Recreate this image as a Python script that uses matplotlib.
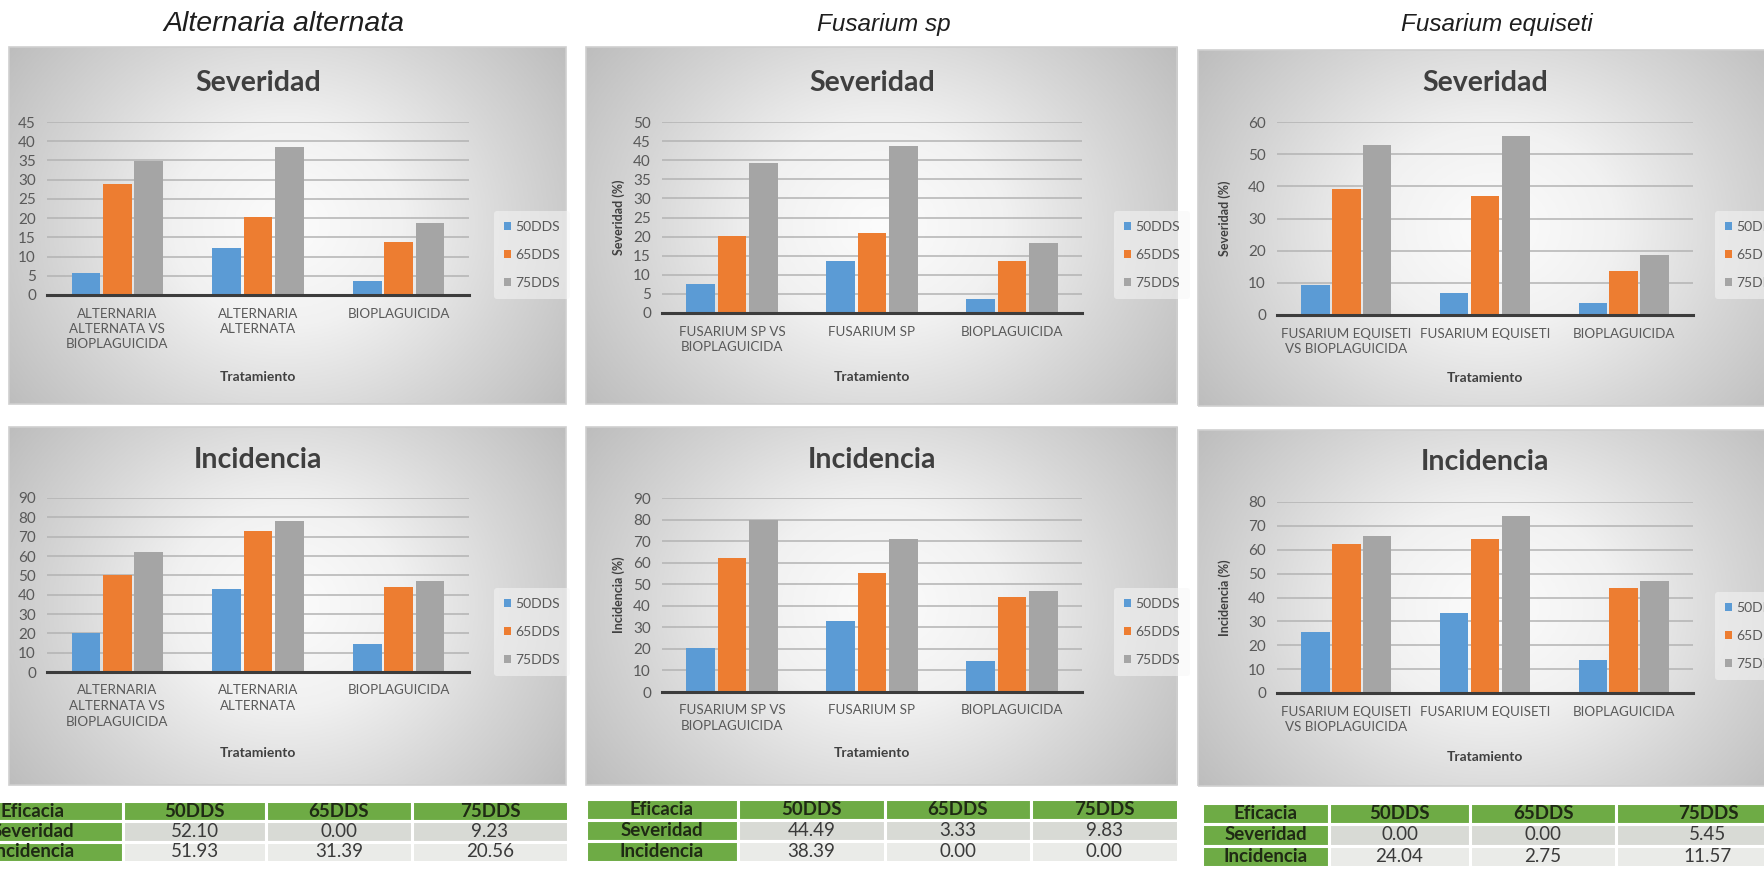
import numpy as np
import matplotlib
matplotlib.use("Agg")
import matplotlib.pyplot as plt
from matplotlib import font_manager
from matplotlib.colors import LinearSegmentedColormap
from matplotlib.patches import Rectangle

# ---------------------------------------------------------------- data
series = ["50DDS", "65DDS", "75DDS"]
series_colors = ["#5B9BD5", "#ED7D31", "#A5A5A5"]

organisms = ["Alternaria alternata", "Fusarium sp", "Fusarium equiseti"]

cats_alt = ["ALTERNARIA\nALTERNATA VS\nBIOPLAGUICIDA", "ALTERNARIA\nALTERNATA", "BIOPLAGUICIDA"]
cats_fsp = ["FUSARIUM SP VS\nBIOPLAGUICIDA", "FUSARIUM SP", "BIOPLAGUICIDA"]
cats_feq = ["FUSARIUM EQUISETI\nVS BIOPLAGUICIDA", "FUSARIUM EQUISETI", "BIOPLAGUICIDA"]

# rows: 50DDS, 65DDS, 75DDS ; columns: treatments
sev_alt = [[5.8, 12.1, 3.6], [29.0, 20.3, 13.8], [34.8, 38.5, 18.6]]
sev_fsp = [[7.7, 13.7, 3.6], [20.2, 20.9, 13.7], [39.3, 43.7, 18.4]]
sev_feq = [[9.3, 6.9, 3.6], [39.3, 37.0, 13.7], [52.7, 55.6, 18.6]]

inc_alt = [[20.4, 42.9, 14.4], [50.0, 72.7, 44.1], [61.9, 78.2, 46.9]]
inc_fsp = [[20.2, 32.9, 14.4], [62.1, 55.4, 43.9], [80.0, 71.0, 46.9]]
inc_feq = [[25.6, 33.7, 13.9], [62.6, 64.3, 43.8], [65.6, 74.3, 47.0]]

table_cols = ["Eficacia", "50DDS", "65DDS", "75DDS"]
table_rows = ["Severidad", "Incidencia"]
efic_alt = [[52.10, 0.00, 9.23], [51.93, 31.39, 20.56]]
efic_fsp = [[44.49, 3.33, 9.83], [38.39, 0.00, 0.00]]
efic_feq = [[0.00, 0.00, 5.45], [24.04, 2.75, 11.57]]

# ---------------------------------------------------------------- fonts
avail = {f.name for f in font_manager.fontManager.ttflist}


def pick(*names):
    for n in names:
        if n in avail:
            return n
    return "DejaVu Sans"


CHART_FONT = pick("Lato", "Open Sans", "DejaVu Sans")
NARROW_FONT = pick("Liberation Sans Narrow", "Lato", "Open Sans")
HEAD_FONT = pick("Liberation Sans", "DejaVu Sans")

W, H, DPI = 1765, 874, 100
fig = plt.figure(figsize=(W / DPI, H / DPI), dpi=DPI)
fig.patch.set_facecolor("white")


def px_axes(x0, y0, x1, y1, **kw):
    return fig.add_axes([x0 / W, 1 - y1 / H, (x1 - x0) / W, (y1 - y0) / H], **kw)


def ftext(x, y, s, **kw):
    return fig.text(x / W, 1 - y / H, s, **kw)


grad = LinearSegmentedColormap.from_list("panel_bg", ["#FCFCFC", "#F1F1F1", "#D6D6D6", "#BDBDBD"])


def chart(box, plot, title, title_y, values, cats, ymax, ystep,
          ylabel, ylabel_x, legend_x, legend_y, xlab_y):
    bg = px_axes(*box, zorder=0)
    yy, xx = np.mgrid[0:1:240j, 0:1:360j]
    r = np.hypot((xx - 0.5) / 0.62, (yy - 0.5) / 0.85)
    bg.imshow(np.clip(r, 0, 1), cmap=grad, vmin=0, vmax=1, aspect="auto",
              extent=[0, 1, 0, 1], interpolation="bilinear")
    bg.add_patch(Rectangle((0, 0), 1, 1, transform=bg.transAxes, fill=False,
                           ec="#CFCFCF", lw=1.2, clip_on=False))
    bg.set_axis_off()

    ax = px_axes(*plot, zorder=2)
    ax.patch.set_alpha(0)
    x = np.arange(len(cats))
    for i, (name, col) in enumerate(zip(series, series_colors)):
        ax.bar(x + (i - 1) * 0.223, values[i], width=0.205, color=col,
               label=name, zorder=3)
    ax.set_xlim(-0.5, len(cats) - 0.5)
    ax.set_ylim(0, ymax)
    ax.set_yticks(np.arange(0, ymax + 0.1, ystep))
    ax.yaxis.grid(True, color="#B3B3B3", lw=1.1)
    ax.set_axisbelow(True)
    for sp in ("top", "right", "left"):
        ax.spines[sp].set_visible(False)
    ax.spines["bottom"].set_color("#3C3C3C")
    ax.spines["bottom"].set_linewidth(2.2)
    ax.spines["bottom"].set_zorder(4)
    ax.tick_params(axis="both", length=0, colors="#595959")
    ax.tick_params(axis="y", labelsize=11, pad=8)
    ax.tick_params(axis="x", labelsize=9.6, pad=9)
    ax.set_xticks(x)
    ax.set_xticklabels(cats, linespacing=1.35, family=NARROW_FONT)
    for lab in ax.get_yticklabels():
        lab.set_family(CHART_FONT)

    cx = (plot[0] + plot[2]) / 2
    ftext(cx, title_y, title, ha="center", va="center", fontsize=20.5,
          weight="bold", color="#3F3F3F", family=CHART_FONT)
    ftext(cx, xlab_y, "Tratamiento", ha="center", va="center", fontsize=10,
          weight="bold", color="#404040", family=CHART_FONT)
    if ylabel:
        ftext(ylabel_x, (plot[1] + plot[3]) / 2, ylabel, rotation=90,
              ha="center", va="center", fontsize=9, weight="bold",
              color="#404040", family=CHART_FONT)

    leg = ax.legend(loc="center left", bbox_to_anchor=(legend_x / W, 1 - legend_y / H),
                    bbox_transform=fig.transFigure, frameon=True, facecolor="#F6F6F6",
                    edgecolor="none", framealpha=0.55, handlelength=0.5,
                    handleheight=0.5, handletextpad=0.35, labelspacing=1.15,
                    borderpad=0.7, prop={"family": CHART_FONT, "size": 10})
    for t in leg.get_texts():
        t.set_color("#595959")
    return ax


# ---------------------------------------------------------------- headers
for name, hx, hs in zip(organisms, [284, 884, 1497], [20.5, 17.5, 17.5]):
    ftext(hx, 24, name, ha="center", va="center", fontsize=hs, style="italic",
          color="#1E1E1E", family=HEAD_FONT)

# ---------------------------------------------------------------- severity row
chart((9, 47, 566, 404), (47, 122, 469, 295), "Severidad", 83, sev_alt, cats_alt,
      45, 5, None, None, 487, 255, 377)
chart((586, 47, 1177, 404), (662, 122, 1082, 313), "Severidad", 83, sev_fsp, cats_fsp,
      50, 5, "Severidad (%)", 619, 1107, 255, 377)
chart((1198, 50, 1790, 406), (1277, 122, 1693, 315), "Severidad", 83, sev_feq, cats_feq,
      60, 10, "Severidad (%)", 1225, 1708, 255, 378)

# ---------------------------------------------------------------- incidence row
chart((9, 427, 566, 785), (47, 498, 469, 672), "Incidencia", 460, inc_alt, cats_alt,
      90, 10, None, None, 487, 632, 753)
chart((586, 427, 1177, 785), (662, 498, 1082, 692), "Incidencia", 460, inc_fsp, cats_fsp,
      90, 10, "Incidencia (%)", 619, 1107, 632, 753)
chart((1198, 430, 1790, 786), (1277, 502, 1693, 693), "Incidencia", 462, inc_feq, cats_feq,
      80, 10, "Incidencia (%)", 1225, 1708, 636, 757)


# ---------------------------------------------------------------- efficacy tables
def efficacy_table(edges, y0, y1, values):
    tx = px_axes(edges[0], y0, edges[-1], y1, zorder=3)
    tx.set_axis_off()
    cells = [table_cols] + [[rn] + [f"{v:.2f}" for v in row]
                            for rn, row in zip(table_rows, values)]
    widths = np.diff(edges) / (edges[-1] - edges[0])
    tab = tx.table(cellText=cells, cellLoc="center", bbox=[0, 0, 1, 1],
                   colWidths=list(widths))
    tab.auto_set_font_size(False)
    row_bg = {1: "#D8DAD5", 2: "#EAEBE8"}
    for (r, c), cell in tab.get_celld().items():
        cell.set_edgecolor("white")
        cell.set_linewidth(2.2)
        txt = cell.get_text()
        txt.set_family(NARROW_FONT)
        txt.set_fontsize(13.5)
        if r == 0 or c == 0:
            cell.set_facecolor("#6EAB45")
            txt.set_weight("bold")
            txt.set_color("#1F2A14")
        else:
            cell.set_facecolor(row_bg[r])
            txt.set_color("#3A3A3A")
    return tab


efficacy_table([-58, 123, 266, 412, 568], 801, 862, efic_alt)
efficacy_table([586, 738, 885, 1031, 1178], 799, 862, efic_fsp)
efficacy_table([1202, 1329, 1470, 1616, 1800], 803, 867, efic_feq)

fig.savefig("out.png", dpi=DPI, facecolor="white")
